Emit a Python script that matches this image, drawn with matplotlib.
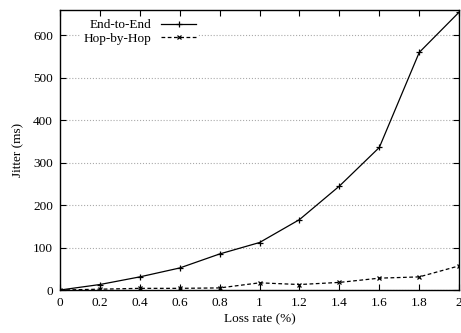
import matplotlib
matplotlib.use("Agg")
import matplotlib.pyplot as plt

loss = [0, 0.2, 0.4, 0.6, 0.8, 1.0, 1.2, 1.4, 1.6, 1.8, 2.0]
end_to_end = [0, 13, 31, 52, 85, 112, 166, 245, 336, 560, 655]
hop_by_hop = [0, 2, 4, 4, 5, 17, 13, 18, 28, 31, 57]
xticks = [0, 0.2, 0.4, 0.6, 0.8, 1, 1.2, 1.4, 1.6, 1.8, 2]
xticklabels = ["0", "0.2", "0.4", "0.6", "0.8", "1", "1.2", "1.4", "1.6", "1.8", "2"]
yticks = [0, 100, 200, 300, 400, 500, 600]

plt.rcParams['font.family'] = ['Liberation Serif', 'DejaVu Serif']
plt.rcParams['font.size'] = 9.5

fig = plt.figure(figsize=(4.61, 3.33), dpi=100)
ax = fig.add_axes([0.130, 0.129, 0.866, 0.841])

ax.plot(loss, end_to_end, "-", color="black", lw=0.9, marker="+", ms=4, mew=0.9, label="End-to-End")
ax.plot(loss, hop_by_hop, "--", color="black", lw=0.9, marker="x", ms=3.5, mew=0.9, dashes=(3, 2), label="Hop-by-Hop")

ax.set_xlim(0, 2)
ax.set_ylim(0, 660)
ax.set_xticks(xticks)
ax.set_xticklabels(xticklabels)
ax.set_yticks(yticks)
ax.yaxis.grid(True, linestyle=":", color="#aaaaaa", lw=0.8)
ax.set_axisbelow(True)
ax.tick_params(direction="in", top=True, right=True, length=4, width=0.8, pad=5)
for s in ax.spines.values():
    s.set_linewidth(1.0)

ax.set_xlabel("Loss rate (%)", labelpad=3)
ax.set_ylabel("Jitter (ms)", labelpad=6)

leg = ax.legend(loc="upper left", markerfirst=False, frameon=True, fancybox=False,
                edgecolor="none", facecolor="white", framealpha=1,
                handlelength=2.6, borderpad=0.2, labelspacing=0.1,
                bbox_to_anchor=(0.035, 1.0))
for t in leg.get_texts():
    t.set_ha("right")

fig.savefig("out.png", dpi=100)
